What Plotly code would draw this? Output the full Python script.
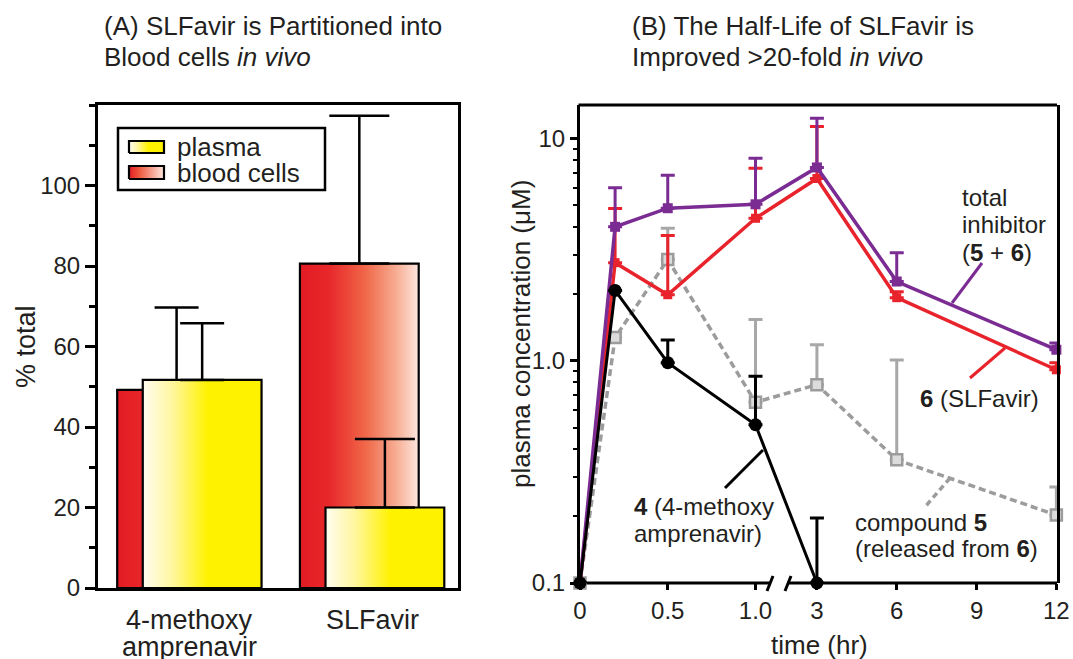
import plotly.graph_objects as go

# ---------------- data: panel A ----------------
categories_line1 = ["4-methoxy", "SLFavir"]
categories_line2 = ["amprenavir", ""]
blood_cells = [49.2, 80.6]
blood_cells_err = [20.5, 36.7]
plasma = [51.7, 20.0]
plasma_err = [14.1, 17.0]

# ---------------- data: panel B ----------------
time_hr = [0, 0.2, 0.5, 1.0, 3, 6, 12]
total_inhibitor = [0.1, 4.0, 4.85, 5.05, 7.4, 2.27, 1.12]
total_inhibitor_err = [None, 2.0, 1.97, 3.08, 4.9, 0.79, 0.08]
slfavir = [0.1, 2.76, 1.98, 4.37, 6.6, 1.92, 0.91]
slfavir_err = [None, 2.08, 1.68, 2.96, 4.7, 0.12, 0.07]
compound5 = [0.1, 1.27, 2.85, 0.65, 0.78, 0.358, 0.202]
compound5_err = [None, 0.07, 1.09, 0.88, 0.4, 0.65, 0.068]
methoxy_time = [0, 0.2, 0.5, 1.0, 3]
methoxy = [0.1, 2.07, 0.98, 0.515, 0.1]
methoxy_err = [None, None, 0.26, 0.335, 0.096]
x_tick_hr = [0, 0.5, 1.0, 3, 6, 9, 12]
x_tick_text = ["0", "0.5", "1.0", "3", "6", "9", "12"]
y_tick_vals = [0.1, 1, 10]
y_tick_text = ["0.1", "1.0", "10"]

# ---------------- geometry / style ----------------
W, H = 1073, 659
ML, MR, MT, MB = 98, 16, 105, 71
PW, PH = W - ML - MR, H - MT - MB
FONT = "Liberation Sans, Arial, Helvetica, sans-serif"
TXT = "#231f20"
PURPLE = "#7b2c93"
RED = "#e8232b"
GRAY = "#9c9c9c"


def px(x):
    return (x - ML) / PW


def py(y):
    return (H - MB - y) / PH


A_RANGE_X = [-0.5, 1.47]
A_X0, A_X1 = 98, 458


def ax_x(p):
    return A_RANGE_X[0] + (p - A_X0) / (A_X1 - A_X0) * (A_RANGE_X[1] - A_RANGE_X[0])


def ax_y(p):
    return (588 - p) / (588 - 105) * 120


# broken time axis: 0-1 hr linear, then 3-12 hr compressed
def axis_pos(t):
    return t if t <= 1.0 else 1.35 + (t - 3) * 0.1516


red_scale = [[0, "#e31b23"], [0.25, "#e8282b"], [0.55, "#f06748"], [0.8, "#f7aa90"], [1, "#fde7df"]]
yellow_scale = [[0, "#fffdf2"], [0.25, "#fff69e"], [0.55, "#fff200"], [1, "#fff200"]]

fig = go.Figure()


def rect(x0, x1, y0, y1, scale, xa="x", ya="y", lw=2.2):
    fig.add_trace(go.Scatter(
        x=[x0, x1, x1, x0, x0], y=[y0, y0, y1, y1, y0], mode="lines",
        fill="toself", fillgradient=dict(type="horizontal", colorscale=scale),
        line=dict(color="black", width=lw), xaxis=xa, yaxis=ya,
        showlegend=False, hoverinfo="skip"))


def errbar(x, y, e, cap, xa="x", ya="y", color="black", th=2.5):
    fig.add_trace(go.Scatter(
        x=[x], y=[y], mode="markers", marker=dict(size=1, opacity=0),
        error_y=dict(type="data", array=[e], arrayminus=[0], symmetric=False,
                     width=cap, thickness=th, color=color),
        xaxis=xa, yaxis=ya, showlegend=False, hoverinfo="skip"))


BW = 0.65
OFF = 0.07
caps = [22, 30]
for i in range(len(blood_cells)):
    xr = i - OFF
    xy = i + OFF
    rect(xr - BW / 2, xr + BW / 2, 0, blood_cells[i], red_scale)
    errbar(xr, blood_cells[i], blood_cells_err[i], caps[i])
    rect(xy - BW / 2, xy + BW / 2, 0, plasma[i], yellow_scale)
    errbar(xy, plasma[i], plasma_err[i], caps[i])

# legend swatches
rect(ax_x(129), ax_x(164), ax_y(153), ax_y(141), yellow_scale)
rect(ax_x(129), ax_x(164), ax_y(179), ax_y(166), red_scale[:1] + [[0.3, "#ee5a40"], [1, "#fde7df"]])

# ---------------- panel B traces ----------------
tpos = [axis_pos(t) for t in time_hr]
mpos = [axis_pos(t) for t in methoxy_time]


def zeros(err):
    return [0 if e is not None else None for e in err]


fig.add_trace(go.Scatter(
    x=tpos, y=compound5, mode="lines+markers", xaxis="x2", yaxis="y2",
    line=dict(color=GRAY, width=3.5, dash="7px,4px"),
    marker=dict(symbol="square", size=11, color="#dcdcdc", line=dict(color=GRAY, width=2.5)),
    error_y=dict(type="data", array=compound5_err, arrayminus=zeros(compound5_err), symmetric=False,
                 color="#a8a8a8", thickness=3, width=7),
    cliponaxis=False, showlegend=False))
fig.add_trace(go.Scatter(
    x=tpos, y=slfavir, mode="lines+markers", xaxis="x2", yaxis="y2",
    line=dict(color=RED, width=3.5),
    marker=dict(symbol="square", size=9, color=RED),
    error_y=dict(type="data", array=slfavir_err, arrayminus=zeros(slfavir_err), symmetric=False,
                 color=RED, thickness=3, width=7),
    cliponaxis=False, showlegend=False))
fig.add_trace(go.Scatter(
    x=tpos, y=total_inhibitor, mode="lines+markers", xaxis="x2", yaxis="y2",
    line=dict(color=PURPLE, width=3.5),
    marker=dict(symbol="square", size=10, color=PURPLE),
    error_y=dict(type="data", array=total_inhibitor_err, arrayminus=zeros(total_inhibitor_err), symmetric=False,
                 color=PURPLE, thickness=3, width=7),
    cliponaxis=False, showlegend=False))
fig.add_trace(go.Scatter(
    x=mpos, y=methoxy, mode="lines+markers", xaxis="x2", yaxis="y2",
    line=dict(color="black", width=3),
    marker=dict(symbol="circle", size=13, color="black"),
    error_y=dict(type="data", array=methoxy_err, arrayminus=zeros(methoxy_err), symmetric=False,
                 color="black", thickness=3, width=7),
    cliponaxis=False, showlegend=False))

# ---------------- shapes ----------------
shapes = []


def pline(x0, y0, x1, y1, color="black", width=3, dash=None, layer="above"):
    d = dict(type="line", xref="paper", yref="paper", x0=px(x0), y0=py(y0), x1=px(x1), y1=py(y1),
             line=dict(color=color, width=width), layer=layer)
    if dash:
        d["line"]["dash"] = dash
    shapes.append(d)


# legend box
shapes.append(dict(type="rect", xref="paper", yref="paper", x0=px(118), y0=py(190), x1=px(325), y1=py(128),
                   line=dict(color="black", width=2.5), fillcolor="white", layer="below"))
# right panel frame pieces
pline(578.5, 105, 1057, 105, layer="below")
pline(578.5, 583, 770, 583, layer="below")
pline(789, 583, 1057, 583, layer="below")
pline(767, 591, 773, 576, width=3)
pline(785, 591, 791, 576, width=3)
# leader lines
pline(982, 263, 952, 303, color=PURPLE, width=3)
pline(1005, 348, 970, 378, color=RED, width=3)
pline(763, 450, 725, 488, color="black", width=3)
pline(950, 478, 925, 507, color=GRAY, width=3.5, dash="6px,4px")

# ---------------- annotations ----------------
ann = []


def txt(x, y, s, size=24, xanchor="left", angle=0, xref="paper"):
    ann.append(dict(x=x if xref != "paper" else px(x), y=py(y), xref=xref, yref="paper", text=s,
                    showarrow=False, xanchor=xanchor, yanchor="middle", textangle=angle,
                    font=dict(family=FONT, size=size, color=TXT)))


txt(102, 26, "(A) SLFavir is Partitioned into", 26)
txt(102, 57, "Blood cells <i>in vivo</i>", 26)
txt(630, 26, "(B) The Half-Life of SLFavir is", 26)
txt(630, 57, "Improved &gt;20-fold <i>in vivo</i>", 26)
txt(175, 147, "plasma", 26)
txt(175, 173, "blood cells", 26)
for i in range(len(categories_line1)):
    txt(i, 620, categories_line1[i], 27, xanchor="center", xref="x")
    if categories_line2[i]:
        txt(i, 647, categories_line2[i], 27, xanchor="center", xref="x")
txt(26, 347, "% total", 27, xanchor="center", angle=-90)
txt(521, 334, "plasma concentration (μM)", 26, xanchor="center", angle=-90)
txt(819, 645, "time (hr)", 26, xanchor="center")
txt(960, 197, "total", 24)
txt(960, 224, "inhibitor", 24)
txt(960, 252, "(<b>5</b> + <b>6</b>)", 24)
txt(918, 398, "<b>6</b> (SLFavir)", 24)
txt(632, 506, "<b>4</b> (4-methoxy", 24)
txt(632, 533, "amprenavir)", 24)
txt(853, 522, "compound <b>5</b>", 24)
txt(853, 548, "(released from <b>6</b>)", 24)

minor_log = [m * 10 ** k for k in (-1, 0) for m in range(2, 10)]

fig.update_layout(
    width=W, height=H, margin=dict(l=ML, r=MR, t=MT, b=MB, autoexpand=False),
    paper_bgcolor="white", plot_bgcolor="white",
    font=dict(family=FONT, size=24, color=TXT),
    showlegend=False, shapes=shapes, annotations=ann,
    xaxis=dict(domain=[0, px(458)], anchor="y", range=A_RANGE_X, showline=True, linewidth=3,
               linecolor="black", mirror=True, ticks="", showticklabels=False,
               showgrid=False, zeroline=False, automargin=False),
    yaxis=dict(domain=[0, 1], anchor="x", range=[0, 120], tickvals=[0, 20, 40, 60, 80, 100],
               ticks="outside", ticklen=10, tickwidth=3, tickcolor="black",
               minor=dict(tickvals=[10, 30, 50, 70, 90, 110, 120], ticks="outside", ticklen=6,
                          tickwidth=2.5, tickcolor="black"),
               showline=True, linewidth=3, linecolor="black", mirror=True, automargin=False,
               tickfont=dict(size=24, color=TXT), showgrid=False, zeroline=False),
    xaxis2=dict(domain=[px(580), 1], anchor="y2", range=[0, 2.718],
                tickvals=[axis_pos(t) for t in x_tick_hr], ticktext=x_tick_text,
                ticks="outside", ticklen=6, tickwidth=3, tickcolor="black", showline=False,
                automargin=False,
                tickfont=dict(size=24, color=TXT), showgrid=False, zeroline=False),
    yaxis2=dict(domain=[py(583), 1], anchor="x2", type="log", range=[-1, 1.15],
                tickvals=y_tick_vals, ticktext=y_tick_text,
                ticks="outside", ticklen=7, tickwidth=3, tickcolor="black",
                minor=dict(tickvals=minor_log, ticks="outside", ticklen=4, tickwidth=2, tickcolor="black"),
                showline=True, linewidth=3, linecolor="black", mirror=True, automargin=False,
                tickfont=dict(size=24, color=TXT), showgrid=False, zeroline=False),
)

html = fig.to_html(full_html=True, include_plotlyjs=True,
                   config={"displayModeBar": False, "responsive": False})
html = html.replace("<head>", "<head><style>html,body{margin:0;padding:0;overflow:hidden;}</style>", 1)
with open("out.html", "w", encoding="utf-8") as f:
    f.write(html)
